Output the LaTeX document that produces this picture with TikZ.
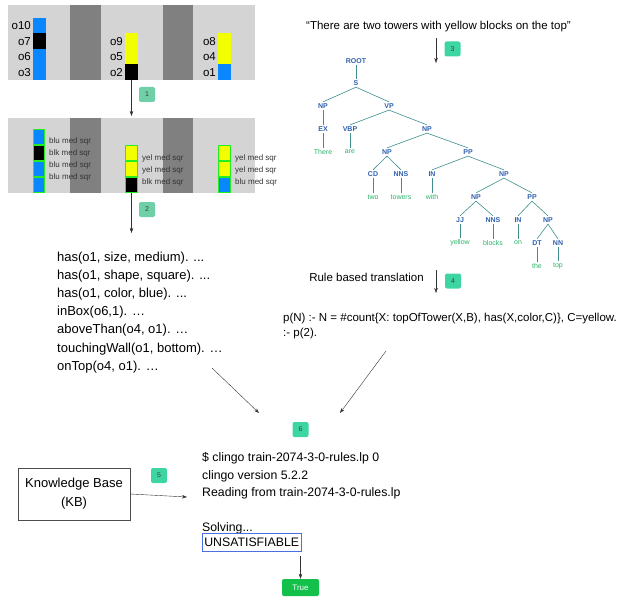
\documentclass[tikz,border=0pt]{standalone}
\usepackage{fontspec}
\setmainfont{Liberation Sans}
\usetikzlibrary{arrows.meta}
\definecolor{panelgray}{HTML}{D4D4D4}
\definecolor{wallgray}{HTML}{808080}
\definecolor{sqblue}{HTML}{0A86FF}
\definecolor{sqyellow}{HTML}{F2FF00}
\definecolor{sqframe}{HTML}{22EE22}
\definecolor{mint}{HTML}{3DD6A3}
\definecolor{palemint}{HTML}{6FCFA6}
\definecolor{tagblue}{HTML}{2F5FAF}
\definecolor{wordgreen}{HTML}{2BB36A}
\definecolor{branch}{HTML}{3E8E8E}
\definecolor{unsatblue}{HTML}{4A6FE3}
\definecolor{truegreen}{HTML}{12C04A}
\newcommand{\fs}[2]{\fontsize{#1}{#2}\selectfont}

\tikzset{
  sq/.style={minimum width=13pt,minimum height=15.5pt},
  fsq/.style={draw=sqframe,line width=1.1pt,minimum width=11.5pt,minimum height=14.5pt},
  olabel/.style={anchor=east,font=\fs{11.5}{13}},
  slabel/.style={anchor=west,font=\fs{8}{9},text=black!80},
  badge/.style={fill=mint,rounded corners=2pt,minimum width=16pt,minimum height=15pt,font=\fs{7}{8},text=black!75},
  tag/.style={inner sep=1.5pt,font=\fs{7}{8}\bfseries,text=tagblue},
  word/.style={inner sep=1.5pt,font=\fs{7}{8},text=wordgreen},
  txt/.style={align=left,anchor=north west}
}

\begin{document}
\begin{tikzpicture}[x=1pt,y=-1pt,>={Stealth[length=5pt,width=3.5pt]},
  every node/.style={inner sep=0pt}]
  \useasboundingbox (0,0) rectangle (623,599);

  % scene
  \fill[panelgray] (8,5) rectangle (255,80);
  \fill[wallgray] (70,5) rectangle (101,80);
  \fill[wallgray] (163,5) rectangle (193,80);
  \foreach \x/\y/\c/\n in {39.5/25.75/sqblue/o10,39.5/41.25/black/o7,39.5/56.75/sqblue/o6,39.5/72.25/sqblue/o3,
      131.5/41.25/sqyellow/o9,131.5/56.75/sqyellow/o5,131.5/72.25/black/o2,
      224.5/41.25/sqyellow/o8,224.5/56.75/sqyellow/o4,224.5/72.25/sqblue/o1}
  {
    \node[sq,fill=\c] (s\n) at (\x,\y) {};
    \node[olabel] (l\n) at (\x-8.5,\y) {\n};
  }

  % perceived scene
  \fill[panelgray] (8,118) rectangle (255,193);
  \fill[wallgray] (70,118) rectangle (101,193);
  \fill[wallgray] (163,118) rectangle (193,193);
  \foreach \x/\y/\c/\n in {39/137/sqblue/a1,39/153/black/a2,39/169/sqblue/a3,39/185/sqblue/a4,
      131.5/153/sqyellow/b1,131.5/169/sqyellow/b2,131.5/185/black/b3,
      224.5/153/sqyellow/c1,224.5/169/sqyellow/c2,224.5/185/sqblue/c3}
    \node[fsq,fill=\c] (p\n) at (\x,\y) {};
  \foreach \x/\y/\t/\n in {49/141/blu/a1,49/153/blk/a2,49/165/blu/a3,49/177/blu/a4,
      142/158/yel/b1,142/170/yel/b2,142/182/blk/b3,
      235/158/yel/c1,235/170/yel/c2,235/182/blu/c3}
    \node[slabel] (t\n) at (\x,\y) {\t{} med sqr};

  \node[badge,fill=palemint] (bdg1) at (147,94.5) {1};
  \node[badge,fill=palemint] (bdg2) at (147,209.5) {2};
  \coordinate (ptop) at (131.5,116);
  \coordinate (ftop) at (131.5,233);
  \draw[->,black!80] (so2.south) -- (ptop);
  \draw[->,black!80] (pb3.south) -- (ftop);

  \node[txt,font=\fs{13}{18.2}] (facts) at (57,251.5)
    {has(o1, size, medium). ...\\ has(o1, shape, square). ...\\ has(o1, color, blue). ...\\
     inBox(o6,1). …\\ aboveThan(o4, o1). …\\ touchingWall(o1, bottom). …\\ onTop(o4, o1). …};

  % question and parse
  \node[font=\fs{11.5}{13}] (sent) at (438.5,27) {“There are two towers with yellow blocks on the top”};
  \coordinate (q3a) at (436,38);
  \coordinate (q3b) at (436,63);
  \draw[->,black!80] (q3a) -- (q3b);
  \node[badge] (bdg3) at (452.5,49) {3};

  \node[tag] (root) at (356,61) {ROOT};
  \node[tag] (s) at (356,83) {S};
  \node[tag] (np1) at (323,106) {NP};
  \node[tag] (vp) at (389,106) {VP};
  \node[tag] (ex) at (323,129) {EX};
  \node[tag] (vbp) at (350,129) {VBP};
  \node[tag] (np2) at (427,129) {NP};
  \node[word] (w1) at (323,152) {There};
  \node[word] (w2) at (350,152) {are};
  \node[tag] (np3) at (387,152) {NP};
  \node[tag] (pp1) at (468,152) {PP};
  \node[tag] (cd) at (373,174) {CD};
  \node[tag] (nns1) at (401,174) {NNS};
  \node[tag] (in1) at (432,174) {IN};
  \node[tag] (np4) at (504,174) {NP};
  \node[word] (w3) at (373,197) {two};
  \node[word] (w4) at (401,197) {towers};
  \node[word] (w5) at (432,197) {with};
  \node[tag] (np5) at (476,197) {NP};
  \node[tag] (pp2) at (532,197) {PP};
  \node[tag] (jj) at (460,220) {JJ};
  \node[tag] (nns2) at (493,220) {NNS};
  \node[tag] (in2) at (518,220) {IN};
  \node[tag] (np6) at (548,220) {NP};
  \node[word] (w6) at (460,243) {yellow};
  \node[word] (w7) at (493,243) {blocks};
  \node[word] (w8) at (518,243) {on};
  \node[tag] (dt) at (537,243) {DT};
  \node[tag] (nn) at (558,243) {NN};
  \node[word] (w9) at (537,266) {the};
  \node[word] (w10) at (558,266) {top};

  \foreach \from/\to in {root/s,s/np1,s/vp,np1/ex,ex/w1,vp/vbp,vp/np2,vbp/w2,np2/np3,np2/pp1,
      np3/cd,np3/nns1,cd/w3,nns1/w4,pp1/in1,pp1/np4,in1/w5,np4/np5,np4/pp2,np5/jj,np5/nns2,
      jj/w6,nns2/w7,pp2/in2,pp2/np6,in2/w8,np6/dt,np6/nn,dt/w9,nn/w10}
    \draw[branch,line width=0.6pt] (\from.south) -- (\to.north);

  \node[font=\fs{11.5}{13}] (rbt) at (366.5,277) {Rule based translation};
  \coordinate (r4a) at (436,270);
  \coordinate (r4b) at (436,293);
  \draw[->,black!80] (r4a) -- (r4b);
  \node[badge] (bdg4) at (453,281) {4};
  \node[txt,font=\fs{11.5}{15}] (rules) at (283,312.5)
    {p(N) :- N = \#count\{X: topOfTower(X,B), has(X,color,C)\}, C=yellow.\\ :- p(2).};

  % solver
  \coordinate (fa) at (212,368);
  \coordinate (fb) at (259,413);
  \coordinate (ra) at (386,351);
  \coordinate (rb) at (340,413);
  \draw[->,black!80] (fa) -- (fb);
  \draw[->,black!80] (ra) -- (rb);
  \node[badge] (bdg6) at (300.5,429.5) {6};

  \node[txt,font=\fs{12.3}{17.3}] (clingo) at (202,452.5)
    {\$ clingo train-2074-3-0-rules.lp 0\\ clingo version 5.2.2\\ Reading from train-2074-3-0-rules.lp\\[17.3pt] Solving...};
  \node[draw=unsatblue,line width=0.9pt,minimum width=99pt,minimum height=18pt,font=\fs{12.3}{14}] (unsat) at (251.7,542) {UNSATISFIABLE};

  \node[draw=black!70,line width=0.8pt,minimum width=112pt,minimum height=52pt,align=center,font=\fs{13}{19}] (kb) at (74,494) {Knowledge Base\\ (KB)};
  \coordinate (kbend) at (187,497);
  \draw[->,black!80] (kb.east) -- (kbend);
  \node[badge] (bdg5) at (159,475.5) {5};

  \node[fill=truegreen,rounded corners=2pt,minimum width=37pt,minimum height=17pt,text=white,font=\fs{8}{9}] (true) at (300.5,587.5) {True};
  \coordinate (u6) at (300.5,556);
  \draw[->,black!80] (u6) -- (true.north);
\end{tikzpicture}
\end{document}
